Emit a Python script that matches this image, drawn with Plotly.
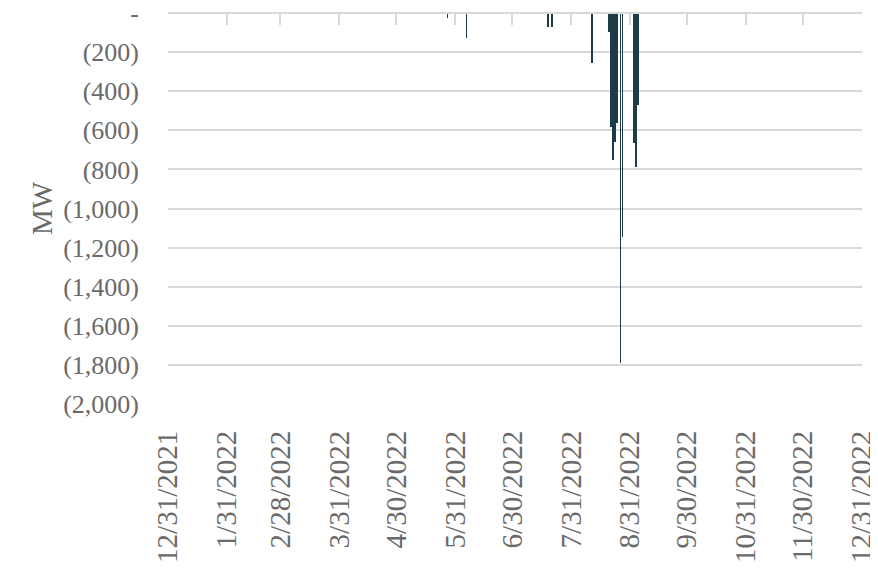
import plotly.graph_objects as go

dates = ["2022-05-27", "2022-06-06", "2022-07-19", "2022-07-21", "2022-08-11",
         "2022-08-20", "2022-08-21", "2022-08-22", "2022-08-23", "2022-08-24",
         "2022-08-26", "2022-08-27", "2022-09-02", "2022-09-03", "2022-09-04"]
mw = [-25, -129, -70, -70, -254,
      -99, -585, -752, -658, -561,
      -1792, -1144, -667, -786, -471]

tick_dates = ["2021-12-31", "2022-01-31", "2022-02-28", "2022-03-31", "2022-04-30",
              "2022-05-31", "2022-06-30", "2022-07-31", "2022-08-31", "2022-09-30",
              "2022-10-31", "2022-11-30", "2022-12-31"]
tick_labels = ["12/31/2021", "1/31/2022", "2/28/2022", "3/31/2022", "4/30/2022",
               "5/31/2022", "6/30/2022", "7/31/2022", "8/31/2022", "9/30/2022",
               "10/31/2022", "11/30/2022", "12/31/2022"]
y_vals = [0, -200, -400, -600, -800, -1000, -1200, -1400, -1600, -1800, -2000]
y_labels = ["-", "(200)", "(400)", "(600)", "(800)", "(1,000)", "(1,200)",
            "(1,400)", "(1,600)", "(1,800)", "(2,000)"]

FONT = "Liberation Serif"
GRAY = "#6a6a6a"
GRID = "#d9d9d9"
DAY_MS = 86400000

fig = go.Figure()
fig.add_trace(go.Bar(x=dates, y=mw, width=[0.45 * DAY_MS] * len(dates),
                     marker=dict(color="#1d3b47", line=dict(width=0)),
                     showlegend=False))
fig.add_trace(go.Scatter(x=[tick_dates[0], tick_dates[-1]], y=[None, None],
                         xaxis="x2", yaxis="y", mode="markers",
                         showlegend=False, hoverinfo="skip"))

rng = ["2021-12-31", "2022-12-31"]
# page body adds an 8px offset; figure is sized to fill the rest of the window
fig.update_layout(
    width=870, height=564,
    margin=dict(l=160, r=16, t=5, b=168, autoexpand=False),
    paper_bgcolor="white", plot_bgcolor="white",
    font=dict(family=FONT, size=26, color=GRAY),
    bargap=0,
    xaxis=dict(type="date", range=rng, tickmode="array", tickvals=tick_dates,
               ticktext=tick_labels, tickangle=-90, showgrid=False,
               zeroline=False, showline=False, ticks="", automargin=False,
               ticklabelstandoff=20, ticklabeloverflow="allow",
               tickfont=dict(family=FONT, size=29, color=GRAY)),
    xaxis2=dict(type="date", range=rng, overlaying="x", side="top",
                anchor="free", position=1, tickmode="array", tickvals=tick_dates,
                showticklabels=False, showgrid=False, zeroline=False,
                showline=True, linecolor=GRID, linewidth=2, automargin=False,
                ticks="inside", ticklen=11, tickwidth=2, tickcolor=GRID),
    yaxis=dict(range=[-2000, 0], tickmode="array", tickvals=y_vals,
               ticktext=y_labels, showgrid=True, gridcolor=GRID, gridwidth=2,
               zeroline=False, showline=False, ticks="", automargin=False,
               ticklabelstandoff=28, ticklabeloverflow="allow",
               tickfont=dict(family=FONT, size=26, color=GRAY),
               title=dict(text="MW", font=dict(family=FONT, size=29, color=GRAY),
                          standoff=2)),
)

fig.write_html("out.html")
